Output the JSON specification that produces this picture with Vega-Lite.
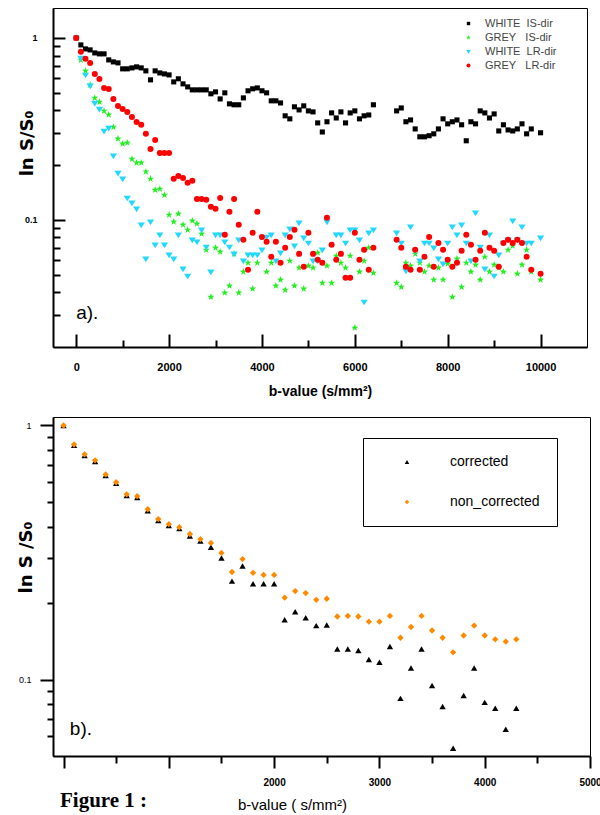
{
  "$schema": "https://vega.github.io/schema/vega-lite/v6.json",
  "background": "white",
  "padding": {"left": 16, "top": 7, "right": 0, "bottom": 0},
  "spacing": 17,
  "resolve": {"scale": {"color": "independent", "shape": "independent"}, "legend": {"color": "independent", "shape": "independent"}},
  "config": {
    "view": {"stroke": "black", "strokeWidth": 1},
    "axis": {"grid": false, "domainColor": "black", "domainWidth": 2, "tickColor": "black", "tickWidth": 2, "labelColor": "black", "titleColor": "black", "labelFont": "Liberation Sans", "titleFont": "Liberation Sans", "labelFlush": false},
    "legend": {"labelFont": "Liberation Sans"}
  },
  "datasets": {
    "a": [
      {"b":0,"k1":1,"k2":1,"k3":1,"k4":1},
      {"b":100,"k1":0.915,"k2":0.757,"k3":0.776,"k4":0.838},
      {"b":200,"k1":0.870,"k2":0.659,"k3":0.626,"k4":0.767},
      {"b":300,"k1":0.859,"k2":0.552,"k3":0.545,"k4":0.729},
      {"b":400,"k1":0.827,"k2":0.468,"k3":0.439,"k4":0.634},
      {"b":500,"k1":0.817,"k2":0.445,"k3":0.407,"k4":0.595},
      {"b":600,"k1":0.817,"k2":0.397,"k3":0.308,"k4":0.531},
      {"b":700,"k1":0.757,"k2":0.378,"k3":0.320,"k4":0.524},
      {"b":800,"k1":0.738,"k2":0.324,"k3":0.225,"k4":0.462},
      {"b":900,"k1":0.729,"k2":0.279,"k3":0.181,"k4":0.423},
      {"b":1000,"k1":0.676,"k2":0.262,"k3":0.168,"k4":0.407},
      {"b":1100,"k1":0.676,"k2":0.265,"k3":0.132,"k4":0.392},
      {"b":1200,"k1":0.684,"k2":0.216,"k3":0.124,"k4":0.368},
      {"b":1300,"k1":0.693,"k2":0.206,"k3":0.115,"k4":0.345},
      {"b":1400,"k1":0.684,"k2":0.206,"k3":0.0939,"k4":0.333},
      {"b":1500,"k1":0.659,"k2":0.184,"k3":0.0611,"k4":0.297},
      {"b":1600,"k1":0.588,"k2":0.168,"k3":0.0975,"k4":0.245},
      {"b":1700,"k1":0.659,"k2":0.146,"k3":0.0729,"k4":0.275},
      {"b":1800,"k1":0.642,"k2":0.148,"k3":0.0827,"k4":0.233},
      {"b":1900,"k1":0.634,"k2":0.137,"k3":0.0729,"k4":0.233},
      {"b":2000,"k1":0.626,"k2":0.1065,"k3":0.0642,"k4":0.233},
      {"b":2100,"k1":0.573,"k2":0.0975,"k3":0.0611,"k4":0.168},
      {"b":2200,"k1":0.596,"k2":0.1079,"k3":0.0827,"k4":0.174},
      {"b":2300,"k1":0.559,"k2":0.0939,"k3":0.0538,"k4":0.170},
      {"b":2400,"k1":0.538,"k2":0.0881,"k3":0.0492,"k4":0.160},
      {"b":2500,"k1":0.518,"k2":0.0988,"k3":0.0777,"k4":0.164},
      {"b":2600,"k1":0.518,"k2":0.0951,"k3":0.0757,"k4":0.130},
      {"b":2700,"k1":0.518,"k2":0.0838,"k3":0.0881,"k4":0.130},
      {"b":2800,"k1":0.518,"k2":0.0684,"k3":0.0710,"k4":0.129},
      {"b":2900,"k1":0.493,"k2":0.0377,"k3":0.0518,"k4":0.118},
      {"b":3000,"k1":0.505,"k2":0.0702,"k3":0.0827,"k4":0.115},
      {"b":3100,"k1":0.462,"k2":0.0667,"k3":0.0827,"k4":0.132},
      {"b":3200,"k1":0.499,"k2":0.0397,"k3":0.0757,"k4":0.0827},
      {"b":3300,"k1":0.434,"k2":0.0434,"k3":0.0710,"k4":0.1107},
      {"b":3400,"k1":0.429,"k2":0.0650,"k3":0.0650,"k4":0.130},
      {"b":3500,"k1":0.429,"k2":0.0397,"k3":0.0777,"k4":0.0939},
      {"b":3600,"k1":0.468,"k2":0.0518,"k3":0.0595,"k4":0.0777},
      {"b":3700,"k1":0.512,"k2":0.0580,"k3":0.0642,"k4":0.0531},
      {"b":3800,"k1":0.525,"k2":0.0418,"k3":0.0642,"k4":0.0848},
      {"b":3900,"k1":0.531,"k2":0.0580,"k3":0.0642,"k4":0.1107},
      {"b":4000,"k1":0.512,"k3":0.0684,"k4":0.0806},
      {"b":4100,"k1":0.499,"k2":0.0518,"k3":0.0806,"k4":0.0757},
      {"b":4200,"k1":0.451,"k2":0.0580,"k3":0.0827,"k4":0.0626},
      {"b":4300,"k1":0.451,"k2":0.0434,"k3":0.0595,"k4":0.0757},
      {"b":4400,"k1":0.439,"k2":0.0468,"k3":0.0659,"k4":0.0580},
      {"b":4500,"k1":0.373,"k2":0.0412,"k3":0.0827,"k4":0.0702},
      {"b":4600,"k1":0.359,"k2":0.0595,"k3":0.0892,"k4":0.0806},
      {"b":4700,"k1":0.418,"k2":0.0434,"k3":0.0720,"k4":0.0881},
      {"b":4800,"k1":0.402,"k2":0.0545,"k3":0.0963,"k4":0.0650},
      {"b":4900,"k1":0.423,"k2":0.0418,"k3":0.0796,"k4":0.0552},
      {"b":5000,"k1":0.397,"k2":0.0559,"k3":0.0747,"k4":0.0848},
      {"b":5100,"k1":0.392,"k2":0.0545,"k3":0.0595,"k4":0.0650},
      {"b":5200,"k1":0.341,"k2":0.0659,"k3":0.0595,"k4":0.0603},
      {"b":5300,"k1":0.304,"k2":0.0450,"k3":0.0684,"k4":0.0580},
      {"b":5400,"k1":0.346,"k2":0.0559,"k3":0.0975,"k4":0.1026},
      {"b":5500,"k1":0.387,"k2":0.0450,"k4":0.0729},
      {"b":5600,"k1":0.363,"k2":0.0634,"k3":0.0827,"k4":0.0603},
      {"b":5700,"k1":0.392,"k2":0.0580,"k3":0.0827,"k4":0.0650},
      {"b":5800,"k1":0.341,"k2":0.0545,"k3":0.0747,"k4":0.0480},
      {"b":5900,"k1":0.387,"k2":0.0634,"k3":0.0881,"k4":0.0480},
      {"b":6000,"k1":0.397,"k2":0.0255,"k3":0.0881,"k4":0.0848},
      {"b":6100,"k1":0.359,"k2":0.0518,"k3":0.0777,"k4":0.0603},
      {"b":6200,"k1":0.373,"k2":0.0595,"k3":0.0354,"k4":0.0684},
      {"b":6300,"k1":0.377,"k2":0.0702,"k3":0.0848,"k4":0.0531},
      {"b":6400,"k1":0.429,"k2":0.0511,"k3":0.0881,"k4":0.0702},
      {"b":6900,"k1":0.397,"k2":0.0450,"k3":0.0848,"k4":0.0777},
      {"b":7000,"k1":0.412,"k2":0.0428,"k3":0.0747,"k4":0.0702},
      {"b":7100,"k1":0.346,"k2":0.0580,"k3":0.0525,"k4":0.0552},
      {"b":7200,"k1":0.354,"k2":0.0559,"k3":0.0915,"k4":0.0531},
      {"b":7300,"k1":0.316,"k2":0.0650,"k3":0.0676,"k4":0.0684},
      {"b":7400,"k1":0.286,"k2":0.0580,"k3":0.0595,"k4":0.0531},
      {"b":7500,"k1":0.286,"k2":0.0518,"k3":0.0747,"k4":0.0626},
      {"b":7600,"k1":0.290,"k2":0.0559,"k3":0.0747,"k4":0.0806},
      {"b":7700,"k1":0.297,"k2":0.0468,"k3":0.0702,"k4":0.0552},
      {"b":7800,"k1":0.316,"k2":0.0545,"k3":0.0611,"k4":0.0747},
      {"b":7900,"k1":0.359,"k2":0.0468,"k3":0.0573,"k4":0.0684},
      {"b":8000,"k1":0.337,"k2":0.0573,"k3":0.0747,"k4":0.0603},
      {"b":8100,"k1":0.346,"k2":0.0377,"k3":0.0915,"k4":0.0552},
      {"b":8200,"k1":0.354,"k2":0.0611,"k3":0.0827,"k4":0.0580},
      {"b":8300,"k1":0.333,"k2":0.0428,"k3":0.0939,"k4":0.0676},
      {"b":8400,"k1":0.272,"k2":0.0580,"k3":0.0747,"k4":0.0827},
      {"b":8500,"k1":0.346,"k2":0.0518,"k3":0.0595,"k4":0.0729},
      {"b":8600,"k1":0.337,"k2":0.0566,"k3":0.1093,"k4":0.0603},
      {"b":8700,"k1":0.397,"k2":0.0468,"k3":0.0710,"k4":0.0676},
      {"b":8800,"k1":0.387,"k2":0.0626,"k3":0.0538,"k4":0.0848},
      {"b":8900,"k1":0.363,"k2":0.0518,"k3":0.0827,"k4":0.0702},
      {"b":9000,"k1":0.382,"k2":0.0566,"k3":0.0492,"k4":0.0676},
      {"b":9100,"k1":0.308,"k2":0.0545,"k3":0.0642,"k4":0.0552},
      {"b":9200,"k1":0.333,"k2":0.0518,"k3":0.0747,"k4":0.0747},
      {"b":9300,"k1":0.312,"k2":0.0684,"k3":0.0777,"k4":0.0777},
      {"b":9400,"k1":0.308,"k2":0.0720,"k3":0.0988,"k4":0.0747},
      {"b":9500,"k1":0.316,"k2":0.0505,"k3":0.0777,"k4":0.0777},
      {"b":9600,"k1":0.337,"k2":0.0566,"k3":0.0915,"k4":0.0747},
      {"b":9700,"k1":0.297,"k2":0.0684,"k3":0.0747,"k4":0.0626},
      {"b":9800,"k1":0.316,"k2":0.0518,"k3":0.0747,"k4":0.0531},
      {"b":10000,"k1":0.301,"k2":0.0468,"k3":0.0796,"k4":0.0505}
    ],
    "bp": [
      {"b":0,"corrected":1,"non_corrected":1},
      {"b":100,"corrected":0.835,"non_corrected":0.842},
      {"b":200,"corrected":0.762,"non_corrected":0.770},
      {"b":300,"corrected":0.722,"non_corrected":0.729},
      {"b":400,"corrected":0.636,"non_corrected":0.642},
      {"b":500,"corrected":0.592,"non_corrected":0.598},
      {"b":600,"corrected":0.530,"non_corrected":0.536},
      {"b":700,"corrected":0.521,"non_corrected":0.527},
      {"b":800,"corrected":0.462,"non_corrected":0.468},
      {"b":900,"corrected":0.423,"non_corrected":0.428},
      {"b":1000,"corrected":0.404,"non_corrected":0.409},
      {"b":1100,"corrected":0.393,"non_corrected":0.398},
      {"b":1200,"corrected":0.367,"non_corrected":0.374},
      {"b":1300,"corrected":0.351,"non_corrected":0.357},
      {"b":1400,"corrected":0.332,"non_corrected":0.345},
      {"b":1500,"corrected":0.301,"non_corrected":0.315},
      {"b":1600,"corrected":0.244,"non_corrected":0.265},
      {"b":1700,"corrected":0.280,"non_corrected":0.298},
      {"b":1800,"corrected":0.238,"non_corrected":0.263},
      {"b":1900,"corrected":0.238,"non_corrected":0.258},
      {"b":2000,"corrected":0.238,"non_corrected":0.258},
      {"b":2100,"corrected":0.172,"non_corrected":0.210},
      {"b":2200,"corrected":0.185,"non_corrected":0.223},
      {"b":2300,"corrected":0.175,"non_corrected":0.219},
      {"b":2400,"corrected":0.163,"non_corrected":0.206},
      {"b":2500,"corrected":0.164,"non_corrected":0.208},
      {"b":2600,"corrected":0.132,"non_corrected":0.177},
      {"b":2700,"corrected":0.132,"non_corrected":0.178},
      {"b":2800,"corrected":0.130,"non_corrected":0.177},
      {"b":2900,"corrected":0.120,"non_corrected":0.169},
      {"b":3000,"corrected":0.117,"non_corrected":0.169},
      {"b":3100,"corrected":0.135,"non_corrected":0.178},
      {"b":3200,"corrected":0.0843,"non_corrected":0.146},
      {"b":3300,"corrected":0.111,"non_corrected":0.161},
      {"b":3400,"corrected":0.132,"non_corrected":0.178},
      {"b":3500,"corrected":0.0947,"non_corrected":0.156},
      {"b":3600,"corrected":0.0783,"non_corrected":0.146},
      {"b":3700,"corrected":0.0536,"non_corrected":0.128},
      {"b":3800,"corrected":0.0866,"non_corrected":0.149},
      {"b":3900,"corrected":0.111,"non_corrected":0.163},
      {"b":4000,"corrected":0.0813,"non_corrected":0.149},
      {"b":4100,"corrected":0.0770,"non_corrected":0.144},
      {"b":4200,"corrected":0.0637,"non_corrected":0.141},
      {"b":4300,"corrected":0.0770,"non_corrected":0.144}
    ]
  },
  "vconcat": [
    {
      "width": 534,
      "height": 339,
      "resolve": {"axis": {"x": "independent", "y": "independent"}},
      "layer": [
        {
          "data": {"name": "a"},
          "transform": [{"fold": ["k1", "k2", "k3", "k4"], "as": ["k", "s"]}],
          "mark": {"type": "point", "filled": true, "opacity": 1, "size": 36, "strokeWidth": 0},
          "encoding": {
            "x": {
              "field": "b", "type": "quantitative",
              "scale": {"domain": [-500, 11000], "nice": false, "zero": false},
              "axis": {
                "orient": "bottom",
                "values": [0,2000,4000,6000,8000,10000],
                "format": "d",
                "tickSize": -13,
                "labelFontSize": 11, "labelFontWeight": "bold", "labelPadding": 27,
                "title": "b-value (s/mm\u00b2)", "titleFontSize": 14, "titleFontWeight": "bold", "titlePadding": 12
              }
            },
            "y": {
              "field": "s", "type": "quantitative",
              "scale": {"type": "log", "domain": [0.02, 1.46], "nice": false},
              "axis": {
                "orient": "left",
                "values": [1, 0.1],
                "format": "~g",
                "tickSize": -12,
                "labelFontSize": 9, "labelFontWeight": "bold", "labelPadding": 28,
                "title": "ln S/S\u2080", "titleFont": "DejaVu Sans", "titleFontSize": 18, "titleFontWeight": "bold",
                "titleX": -21, "titleY": 135, "titleBaseline": "alphabetic"
              }
            },
            "color": {
              "field": "k", "type": "nominal",
              "scale": {"domain": ["k1", "k2", "k3", "k4"], "range": ["#000000", "#22ee22", "#22d8ff", "#ff0000"]},
              "legend": {
                "orient": "none", "legendX": 410, "legendY": 10, "padding": 0, "title": null,
                "symbolSize": 16, "labelFontSize": 11, "labelColor": "#444444", "labelOffset": 11, "rowPadding": 2,
                "labelExpr": "datum.label == 'k1' ? 'WHITE\u00a0\u00a0IS-dir' : datum.label == 'k2' ? 'GREY\u00a0\u00a0\u00a0IS-dir' : datum.label == 'k3' ? 'WHITE\u00a0\u00a0LR-dir' : 'GREY\u00a0\u00a0\u00a0LR-dir'"
              }
            },
            "shape": {
              "field": "k", "type": "nominal",
              "scale": {"domain": ["k1", "k2", "k3", "k4"], "range": ["M-0.85,-0.85L0.85,-0.85L0.85,0.85L-0.85,0.85Z", "M0,-1.25L0.294,-0.405L1.189,-0.386L0.475,0.155L0.735,1.011L0,0.5L-0.735,1.011L-0.475,0.155L-1.189,-0.386L-0.294,-0.405Z", "M-1.2,-0.75L1.2,-0.75L0,1.15Z", "circle"]},
              "legend": {
                "orient": "none", "legendX": 410, "legendY": 10, "padding": 0, "title": null,
                "symbolSize": 16, "labelFontSize": 11, "labelColor": "#444444", "labelOffset": 11, "rowPadding": 2,
                "labelExpr": "datum.label == 'k1' ? 'WHITE\u00a0\u00a0IS-dir' : datum.label == 'k2' ? 'GREY\u00a0\u00a0\u00a0IS-dir' : datum.label == 'k3' ? 'WHITE\u00a0\u00a0LR-dir' : 'GREY\u00a0\u00a0\u00a0LR-dir'"
              }
            },
            "order": {"field": "k", "type": "ordinal"}
          }
        },
        {
          "data": {"values": [{"t": "a)."}]},
          "mark": {"type": "text", "align": "left", "baseline": "alphabetic", "font": "Liberation Sans", "fontSize": 19, "color": "black"},
          "encoding": {
            "x": {"datum": 0, "type": "quantitative",
              "axis": {"orient": "bottom", "values": [1000,3000,5000,7000,9000], "labels": false, "domain": false, "title": null, "tickSize": -7}},
            "y": {"datum": 0.0286, "type": "quantitative",
              "axis": {"orient": "left", "values": [0.9,0.8,0.7,0.6,0.5,0.4,0.3,0.2,0.09,0.08,0.07,0.06,0.05,0.04,0.03], "labels": false, "domain": false, "title": null, "tickSize": -7}},
            "text": {"field": "t"}
          }
        }
      ]
    },
    {
      "width": 537,
      "height": 339,
      "title": {"text": "Figure 1 :", "orient": "bottom", "anchor": "start", "frame": "group", "font": "Liberation Serif", "fontSize": 21, "fontWeight": "bold", "color": "black", "offset": -22, "dx": 7},
      "resolve": {"axis": {"x": "independent", "y": "independent"}},
      "layer": [
        {
          "data": {"name": "bp"},
          "transform": [{"fold": ["corrected", "non_corrected"], "as": ["k", "s"]}],
          "mark": {"type": "point", "filled": true, "opacity": 1, "strokeWidth": 0, "size": 40},
          "encoding": {
            "x": {
              "field": "b", "type": "quantitative",
              "scale": {"domain": [-100, 5000], "nice": false, "zero": false},
              "axis": {
                "orient": "bottom",
                "values": [0,1000,2000,3000,4000,5000],
                "format": "d",
                "labelExpr": "datum.value >= 2000 ? datum.label : ''",
                "tickSize": 12,
                "labelFontSize": 10, "labelFontWeight": "bold", "labelPadding": 9,
                "title": "b-value ( s/mm\u00b2)", "titleFontSize": 15, "titleFontWeight": "normal", "titlePadding": 10, "titleX": 239
              }
            },
            "y": {
              "field": "s", "type": "quantitative",
              "scale": {"type": "log", "domain": [0.05, 1.08], "nice": false},
              "axis": {
                "orient": "left",
                "values": [1, 0.1],
                "format": "~g",
                "tickSize": 13,
                "labelFontSize": 9, "labelFontWeight": "normal", "labelPadding": 9,
                "title": "ln S /S\u2080", "titleFont": "DejaVu Sans", "titleFontSize": 18, "titleFontWeight": "bold",
                "titleX": -22, "titleY": 140, "titleBaseline": "alphabetic"
              }
            },
            "color": {
              "field": "k", "type": "nominal",
              "scale": {"domain": ["corrected", "non_corrected"], "range": ["#000000", "#ff8a00"]},
              "legend": {
                "orient": "none", "legendX": 310, "legendY": 21, "title": null,
                "strokeColor": "black", "fillColor": "white", "padding": 17,
                "symbolSize": 20, "symbolOffset": 20, "labelOffset": 36, "rowPadding": 26, "labelFontSize": 14, "labelColor": "black"
              }
            },
            "shape": {
              "field": "k", "type": "nominal",
              "scale": {"domain": ["corrected", "non_corrected"], "range": ["triangle-up", "diamond"]},
              "legend": {
                "orient": "none", "legendX": 310, "legendY": 21, "title": null,
                "strokeColor": "black", "fillColor": "white", "padding": 17,
                "symbolSize": 20, "symbolOffset": 20, "labelOffset": 36, "rowPadding": 26, "labelFontSize": 14, "labelColor": "black"
              }
            },
            "order": {"field": "k", "type": "ordinal"}
          }
        },
        {
          "data": {"values": [{"t": "b)."}]},
          "mark": {"type": "text", "align": "left", "baseline": "alphabetic", "font": "Liberation Sans", "fontSize": 19, "color": "black"},
          "encoding": {
            "x": {"datum": 60, "type": "quantitative",
              "axis": {"orient": "bottom", "values": [500,1500,2500,3500,4500], "labels": false, "domain": false, "title": null, "tickSize": 7}},
            "y": {"datum": 0.0603, "type": "quantitative",
              "axis": {"orient": "left", "values": [0.9,0.8,0.7,0.6,0.5,0.4,0.3,0.2,0.09,0.08,0.07,0.06], "labels": false, "domain": false, "title": null, "tickSize": 6}},
            "text": {"field": "t"}
          }
        }
      ]
    }
  ]
}
